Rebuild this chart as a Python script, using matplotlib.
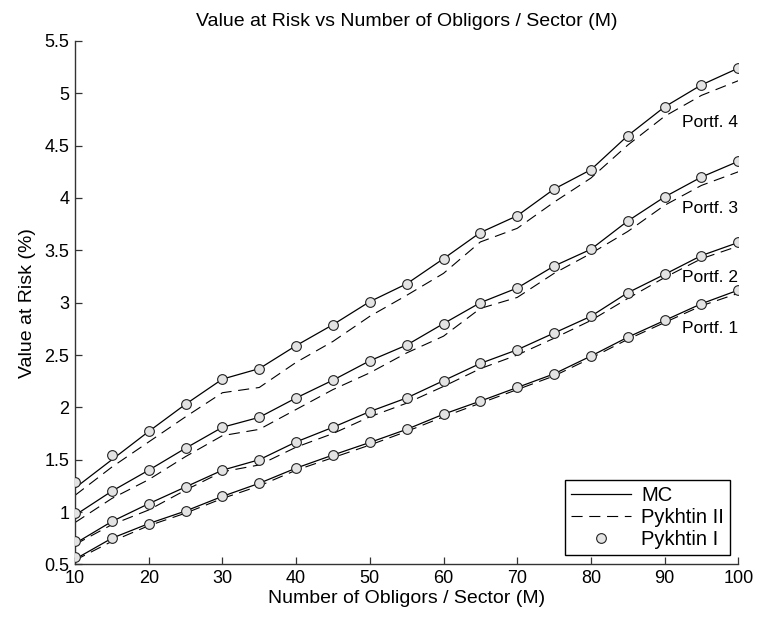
import numpy as np
import matplotlib
matplotlib.use("Agg")
import matplotlib.pyplot as plt

plt.rcParams['font.family'] = ['Liberation Sans', 'DejaVu Sans']

# obligors per sector
M = [10, 15, 20, 25, 30, 35, 40, 45, 50, 55, 60, 65, 70, 75, 80, 85, 90, 95, 100]

# Monte Carlo VaR (%)
mc_p1 = [0.55, 0.75, 0.89, 1.01, 1.15, 1.275, 1.42, 1.545, 1.665, 1.79, 1.935, 2.06, 2.19, 2.32, 2.49, 2.67, 2.83, 2.99, 3.12]
mc_p2 = [0.70, 0.91, 1.08, 1.24, 1.40, 1.50, 1.67, 1.81, 1.96, 2.09, 2.255, 2.42, 2.55, 2.71, 2.87, 3.095, 3.27, 3.45, 3.575]
mc_p3 = [0.97, 1.20, 1.40, 1.61, 1.81, 1.905, 2.09, 2.26, 2.445, 2.595, 2.80, 3.00, 3.14, 3.35, 3.51, 3.78, 4.01, 4.20, 4.35]
mc_p4 = [1.23, 1.50, 1.77, 2.03, 2.27, 2.37, 2.59, 2.79, 3.01, 3.18, 3.42, 3.67, 3.83, 4.085, 4.27, 4.595, 4.87, 5.08, 5.24]

# Pykhtin II approximation
pk2_p1 = [0.54, 0.72, 0.87, 0.99, 1.13, 1.25, 1.40, 1.52, 1.64, 1.77, 1.91, 2.04, 2.17, 2.30, 2.47, 2.65, 2.81, 2.97, 3.09]
pk2_p2 = [0.69, 0.88, 1.02, 1.21, 1.385, 1.45, 1.62, 1.75, 1.91, 2.04, 2.20, 2.37, 2.50, 2.66, 2.83, 3.04, 3.24, 3.42, 3.54]
pk2_p3 = [0.90, 1.13, 1.31, 1.53, 1.73, 1.79, 1.98, 2.17, 2.33, 2.52, 2.68, 2.945, 3.05, 3.28, 3.47, 3.68, 3.93, 4.12, 4.25]
pk2_p4 = [1.16, 1.43, 1.67, 1.91, 2.14, 2.19, 2.43, 2.63, 2.87, 3.07, 3.28, 3.58, 3.71, 3.96, 4.19, 4.505, 4.78, 4.98, 5.12]

# Pykhtin I approximation
pk1_p1 = [0.57, 0.75, 0.89, 1.01, 1.15, 1.275, 1.42, 1.545, 1.665, 1.79, 1.935, 2.06, 2.19, 2.32, 2.49, 2.67, 2.83, 2.99, 3.12]
pk1_p2 = [0.72, 0.91, 1.08, 1.24, 1.40, 1.50, 1.67, 1.81, 1.96, 2.09, 2.255, 2.42, 2.55, 2.71, 2.87, 3.095, 3.27, 3.45, 3.575]
pk1_p3 = [0.99, 1.20, 1.40, 1.61, 1.81, 1.905, 2.09, 2.26, 2.445, 2.595, 2.80, 3.00, 3.14, 3.35, 3.51, 3.78, 4.01, 4.20, 4.35]
pk1_p4 = [1.29, 1.545, 1.77, 2.03, 2.27, 2.37, 2.59, 2.79, 3.01, 3.18, 3.42, 3.67, 3.83, 4.085, 4.27, 4.595, 4.87, 5.08, 5.24]

labels = ["Portf. 1", "Portf. 2", "Portf. 3", "Portf. 4"]
label_y = [2.75, 3.245, 3.90, 4.72]

mc = [mc_p1, mc_p2, mc_p3, mc_p4]
pk2 = [pk2_p1, pk2_p2, pk2_p3, pk2_p4]
pk1 = [pk1_p1, pk1_p2, pk1_p3, pk1_p4]

fig = plt.figure(figsize=(7.57, 6.21), dpi=100)
ax = fig.add_axes([0.0991, 0.0911, 0.8762, 0.843])

axis_col = '#333333'
for i in range(4):
    l1, = ax.plot(M, mc[i], color='black', lw=0.9, zorder=2)
    l2, = ax.plot(M, pk2[i], color='black', lw=0.8, dashes=(10, 6), zorder=2)
    l3, = ax.plot(M, pk1[i], ls='none', marker='o', markersize=7,
                  markerfacecolor='#e3e3e3', markeredgecolor='#222222',
                  markeredgewidth=0.8, zorder=3)
    ax.text(100, label_y[i], labels[i], ha='right', va='center', fontsize=12.5)

ax.set_xlim(10, 100)
ax.set_ylim(0.5, 5.5)
ax.set_xticks(np.arange(10, 101, 10))
yt = np.arange(0.5, 5.51, 0.5)
ax.set_yticks(yt)
ax.set_yticklabels(['%g' % v for v in yt])

ax.spines['top'].set_visible(False)
ax.spines['right'].set_visible(False)
for s in ('left', 'bottom'):
    ax.spines[s].set_color(axis_col)
    ax.spines[s].set_linewidth(1.0)
ax.tick_params(direction='in', length=5, width=0.9, color=axis_col,
               labelsize=13, pad=4)

ax.set_title("Value at Risk vs Number of Obligors / Sector (M)", fontsize=14, pad=11)
ax.set_xlabel("Number of Obligors / Sector (M)", fontsize=14, labelpad=2)
ax.set_ylabel("Value at Risk (%)", fontsize=14, labelpad=6)

leg = ax.legend([l1, l2, l3], ["MC", "Pykhtin II", "Pykhtin I"],
                loc='lower right', bbox_to_anchor=(0.9875, 0.018),
                borderaxespad=0, fancybox=False, fontsize=14.5,
                handlelength=3.0, handletextpad=0.5, borderpad=0.3,
                labelspacing=0.15)
leg.get_frame().set_edgecolor('black')
leg.get_frame().set_linewidth(1.0)
leg.get_frame().set_alpha(1)

fig.savefig("out.png", dpi=100)
